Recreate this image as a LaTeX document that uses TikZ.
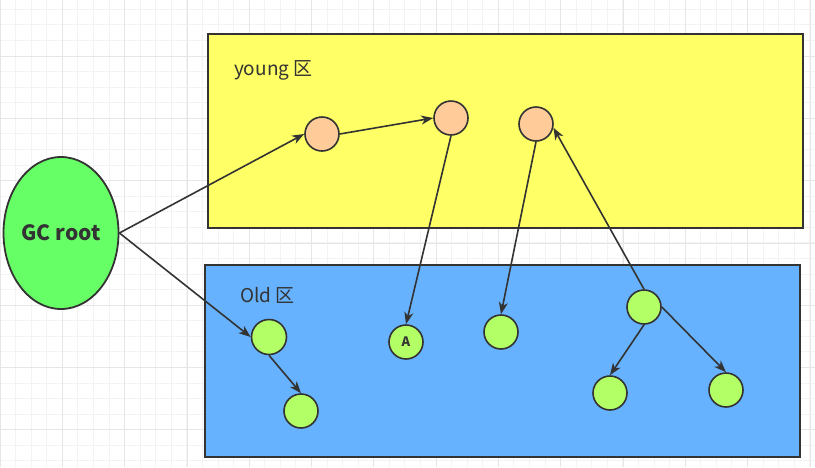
\documentclass[tikz,border=0pt]{standalone}
\usepackage{fontspec}
\setmainfont{Noto Sans CJK SC}
\usepackage{xcolor}
\usepackage{tikz}
\usetikzlibrary{arrows}
\usetikzlibrary{arrows.meta}
\usetikzlibrary{positioning}
\usetikzlibrary{shapes.geometric}

\definecolor{linegray}{HTML}{333333}
\definecolor{youngfill}{HTML}{FFFF66}
\definecolor{oldfill}{HTML}{66B2FF}
\definecolor{rootfill}{HTML}{66FF66}
\definecolor{youngobj}{HTML}{FFCC99}
\definecolor{oldobj}{HTML}{B3FF66}
\definecolor{gridminor}{HTML}{F3F3F3}
\definecolor{gridmajor}{HTML}{E6E6E6}

\begin{document}
\begin{tikzpicture}[x=1pt,y=-1pt,->,>={Stealth[length=12pt,width=9pt,inset=3.5pt]},shorten >=0pt,
                    line width=1.6pt,
                    region/.style={draw=linegray,line width=2pt,anchor=north west,inner sep=0pt},
                    obj node/.style={circle,draw=linegray,line width=1.6pt,minimum size=34pt,inner sep=0pt},
                    label text/.style={text=linegray,font=\fontsize{19}{22}\selectfont,anchor=west}]

    \useasboundingbox (0,0) rectangle (815,467);

    % background grid
    \foreach \i in {0,...,53}
        \draw[-,gridminor,line width=0.8pt] ({\i*15.57},0) -- ({\i*15.57},467);
    \foreach \j in {0,...,30}
        \draw[-,gridminor,line width=0.8pt] (0,{\j*15.57-6.3}) -- (815,{\j*15.57-6.3});
    \foreach \i in {0,...,13}
        \draw[-,gridmajor,line width=0.8pt] ({\i*62.3},0) -- ({\i*62.3},467);
    \foreach \j in {0,...,8}
        \draw[-,gridmajor,line width=0.8pt] (0,{\j*62.3-6.3}) -- (815,{\j*62.3-6.3});

    % generations
    \node[region,fill=youngfill,minimum width=595pt,minimum height=194pt] (young) at (207,33) {};
    \node[region,fill=oldfill,minimum width=595pt,minimum height=192pt] (old) at (204,264) {};
    \node[label text] (younglbl) at (230,70) {young 区};
    \node[label text] (oldlbl) at (236,295) {Old 区};

    % root
    \node[ellipse,draw=linegray,line width=1.8pt,fill=rootfill,minimum width=115pt,minimum height=152pt,
          inner sep=0pt,font=\bfseries\fontsize{21}{24}\selectfont,text=linegray] (gc) at (61,233) {GC root};

    % young objects
    \node[obj node,fill=youngobj] (y1) at (322,134) {};
    \node[obj node,fill=youngobj] (y2) at (451,118) {};
    \node[obj node,fill=youngobj] (y3) at (536,124) {};

    % old objects
    \node[obj node,fill=oldobj,minimum size=35pt] (o1) at (269,337) {};
    \node[obj node,fill=oldobj] (o2) at (301,411) {};
    \node[obj node,fill=oldobj,font=\bfseries\fontsize{13}{15}\selectfont,text=linegray] (oa) at (406,342) {A};
    \node[obj node,fill=oldobj] (o4) at (501,332) {};
    \node[obj node,fill=oldobj] (o5) at (644,307) {};
    \node[obj node,fill=oldobj] (o6) at (610,393) {};
    \node[obj node,fill=oldobj] (o7) at (726,390) {};

    \path[every edge/.style={draw=linegray,line width=1.6pt}]
        (gc.east) edge (y1.west)
                  edge (o1.west)
        (y1.east) edge (y2.west)
        (y2.south) edge (oa.north)
        (y3.south) edge (o4.north)
        (o5.north) edge (y3.-12)
        (o1.south) edge (o2.north)
        (o5.south) edge (o6.north)
        (o5.east) edge (o7.north);
\end{tikzpicture}
\end{document}
